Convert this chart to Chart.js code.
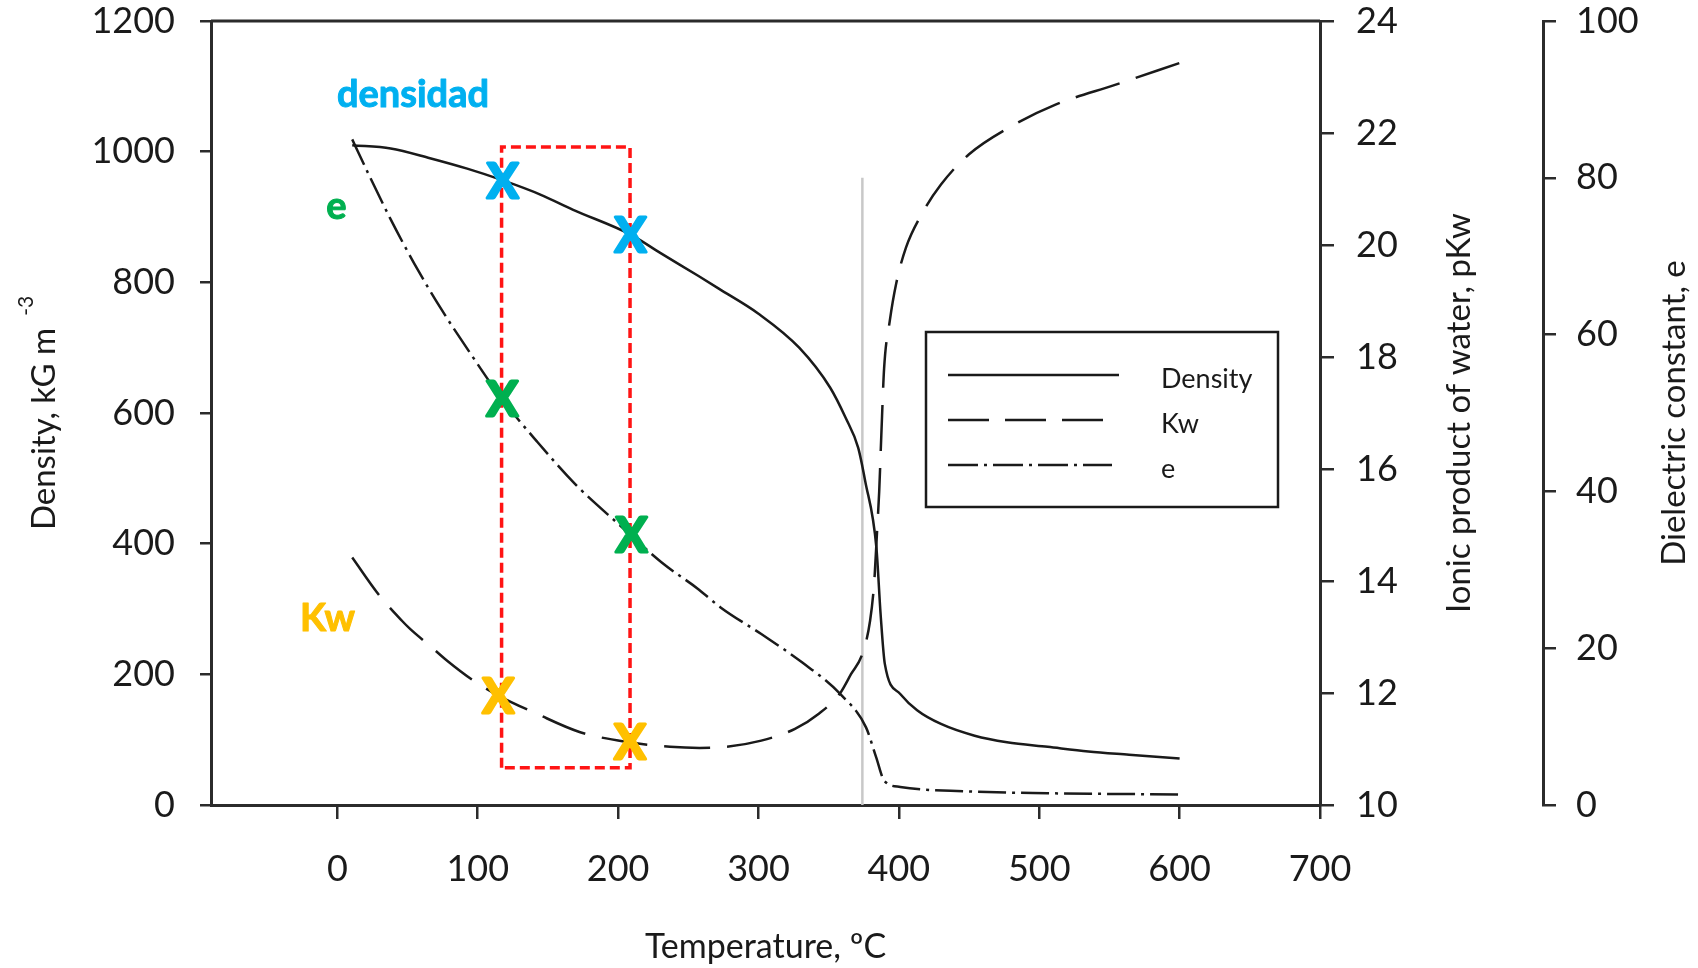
<!DOCTYPE html>
<html>
<head>
<meta charset="utf-8">
<title>Water properties vs temperature</title>
<script src="https://cdn.jsdelivr.net/npm/chart.js@4.4.1/dist/chart.umd.min.js"></script>
<style>
  html, body { margin: 0; padding: 0; background: #fff; }
  #wrap { width: 1698px; height: 968px; }
</style>
</head>
<body>
<div id="wrap"><canvas id="waterChart" width="1698" height="968"></canvas></div>
<script>
// values (temperature in ºC)
const densityTemps = [10.6, 38, 66, 92.5, 118, 145, 168, 209, 230, 257, 272, 300, 329, 351, 362, 371, 376, 384, 387, 390, 401, 413, 430, 454, 477, 506, 535, 564, 600];
const densityValues = [1010, 1005, 990, 974, 956, 934, 911, 873, 845, 810, 790, 752, 700, 639, 593, 547, 496, 394, 292, 216, 170, 145, 124, 106, 96, 89, 82, 77, 71];

const kwTemps = [10.6, 30, 46, 52, 67, 78, 97, 115, 142, 173, 208, 237, 258, 273, 302, 326, 343, 358, 366, 374, 379.5, 382.5, 384.5, 386, 387.5, 389.5, 393.5, 398, 405, 416, 430, 450, 478, 512, 554, 600];
const kwValues = [14.42, 13.74, 13.29, 13.14, 12.82, 12.58, 12.22, 11.95, 11.63, 11.30, 11.12, 11.04, 11.02, 11.03, 11.15, 11.36, 11.63, 11.99, 12.34, 12.70, 13.29, 14.0, 14.9, 15.6, 16.6, 17.8, 18.64, 19.30, 19.95, 20.54, 21.08, 21.62, 22.09, 22.51, 22.86, 23.25];

const eTemps = [10.6, 22.4, 38, 55, 73.5, 94.4, 117.4, 142.3, 169.6, 200.5, 231.3, 257.4, 273, 302, 331, 358, 376.6, 383.8, 389.6, 401, 448, 506, 600];
const eValues = [84.9, 80.4, 74.7, 69.0, 63.4, 57.7, 51.75, 46.35, 40.9, 35.8, 30.9, 27.5, 25.2, 21.8, 18.2, 14.2, 9.9, 6.1, 3.1, 2.3, 1.74, 1.5, 1.35];

// critical temperature marker and highlighted range
const criticalTemps = [374, 374];
const criticalDensity = [0, 960];
const boxTemps = [117, 117, 208.5, 208.5, 117];
const boxDensity = [57, 1007, 1007, 57, 57];

// the coloured X marks
const markTemps = [117.9, 208.8];
const densityMarks = [955.8, 873];
const eMarkTemps = [117.4, 209.5];
const eMarks = [51.75, 34.4];
const kwMarkTemps = [114.6, 208.4];
const kwMarks = [11.95, 11.12];

// annotation words: [temp, density]
const noteTexts = ['densidad', 'e', 'Kw'];
const noteTemps = [53.9, -0.6, -7];
const noteDensity = [1068, 897, 267];
const noteColors = ['#00B0F0', '#00B050', '#FFC000'];

// axes
const xTicks = [0, 100, 200, 300, 400, 500, 600, 700];
const xMin = -90, xMax = 700;
const densityMin = 0, densityMax = 1200, densityStep = 200;
const pkwMin = 10, pkwMax = 24, pkwStep = 2;
const eMin = 0, eMax = 100, eStep = 20;

const legendLabels = ['Density', 'Kw', 'e'];

const ink = '#1a1a1a';
const axisInk = '#2b2b2b';
const kwDash = [46, 17];
const eDash = [28, 6, 3, 6];

function pts(xs, ys) {
  return xs.map((x, i) => ({ x: x, y: ys[i] }));
}

const extras = {
  id: 'extras',
  afterDraw(chart) {
    const ctx = chart.ctx;
    const area = chart.chartArea;
    const sx = chart.scales.x, sy = chart.scales.y, sk = chart.scales.y2, se = chart.scales.y3;

    ctx.save();
    // top frame line
    ctx.strokeStyle = axisInk;
    ctx.lineWidth = 3;
    ctx.beginPath();
    ctx.moveTo(area.left, area.top);
    ctx.lineTo(area.right, area.top);
    ctx.stroke();

    ctx.fillStyle = ink;
    const titleFont = '33px Lato';
    const cy = (area.top + area.bottom) / 2;

    // left title with superscript
    ctx.save();
    ctx.translate(55, cy);
    ctx.rotate(-Math.PI / 2);
    ctx.font = titleFont;
    const main = 'Density, kG m';
    const w1 = ctx.measureText(main).width;
    ctx.font = '21px Lato';
    const w2 = ctx.measureText('-3').width;
    const start = -(w1 + 12 + w2) / 2;
    ctx.textAlign = 'left';
    ctx.textBaseline = 'alphabetic';
    ctx.font = titleFont;
    ctx.fillText(main, start, 0);
    ctx.font = '21px Lato';
    ctx.fillText('-3', start + w1 + 12, -22);
    ctx.restore();

    const rotated = (text, x) => {
      ctx.save();
      ctx.translate(x, cy);
      ctx.rotate(-Math.PI / 2);
      ctx.font = titleFont;
      ctx.textAlign = 'center';
      ctx.textBaseline = 'alphabetic';
      ctx.fillText(text, 0, 0);
      ctx.restore();
    };
    rotated('Ionic product of water, pKw', sk.right - 73);
    rotated('Dielectric constant, e', se.right - 13);

    ctx.font = '34px Lato';
    ctx.textAlign = 'center';
    ctx.textBaseline = 'alphabetic';
    ctx.fillText('Temperature, ºC', (area.left + area.right) / 2, 958);

    // legend box
    const lx = 926, ly = 332, lw = 352, lh = 175;
    ctx.lineWidth = 2.5;
    ctx.strokeStyle = ink;
    ctx.strokeRect(lx, ly, lw, lh);
    const dashes = [[], [41, 16], [30, 6, 3, 6]];
    const ends = [1119, 1103, 1112];
    legendLabels.forEach((label, i) => {
      const y = 375 + i * 45;
      ctx.setLineDash(dashes[i]);
      ctx.lineWidth = 2.5;
      ctx.beginPath();
      ctx.moveTo(948, y);
      ctx.lineTo(ends[i], y);
      ctx.stroke();
      ctx.setLineDash([]);
      ctx.font = '27px Lato';
      ctx.textAlign = 'left';
      ctx.textBaseline = 'middle';
      ctx.fillText(label, 1161, y + 4);
    });

    // coloured notes
    ctx.textAlign = 'center';
    ctx.textBaseline = 'alphabetic';
    ctx.lineJoin = 'round';
    ctx.font = 'bold 38px Lato';
    noteTexts.forEach((t, i) => {
      const px = sx.getPixelForValue(noteTemps[i]);
      const py = sy.getPixelForValue(noteDensity[i]);
      ctx.fillStyle = noteColors[i];
      ctx.strokeStyle = noteColors[i];
      ctx.lineWidth = 1;
      ctx.fillText(t, px, py);
      ctx.strokeText(t, px, py);
    });

    // X marks, baseline shifted by half the cap height
    ctx.font = 'bold 47px Lato';
    const drawX = (color, xs, ys, scale) => {
      ctx.fillStyle = color;
      ctx.strokeStyle = color;
      ctx.lineWidth = 3;
      xs.forEach((t, i) => {
        const px = sx.getPixelForValue(t);
        const py = scale.getPixelForValue(ys[i]) + 17;
        ctx.fillText('X', px, py);
        ctx.strokeText('X', px, py);
      });
    };
    drawX(noteColors[0], markTemps, densityMarks, sy);
    drawX(noteColors[1], eMarkTemps, eMarks, se);
    drawX(noteColors[2], kwMarkTemps, kwMarks, sk);
    ctx.restore();
  }
};

function tickFont() {
  return { family: 'Lato', size: 36 };
}

const plainLabel = v => String(v);

function draw() {
  const ctx = document.getElementById('waterChart').getContext('2d');
  new Chart(ctx, {
    type: 'scatter',
    data: {
      datasets: [
        {
          label: 'Density',
          data: pts(densityTemps, densityValues),
          yAxisID: 'y',
          showLine: true,
          borderColor: ink,
          borderWidth: 2.5,
          pointRadius: 0,
          cubicInterpolationMode: 'monotone',
          order: 3
        },
        {
          label: 'Kw',
          data: pts(kwTemps, kwValues),
          yAxisID: 'y2',
          showLine: true,
          borderColor: ink,
          borderWidth: 2.5,
          borderDash: kwDash,
          pointRadius: 0,
          cubicInterpolationMode: 'monotone',
          order: 3
        },
        {
          label: 'e',
          data: pts(eTemps, eValues),
          yAxisID: 'y3',
          showLine: true,
          borderColor: ink,
          borderWidth: 2.5,
          borderDash: eDash,
          pointRadius: 0,
          cubicInterpolationMode: 'monotone',
          order: 3
        },
        {
          label: 'critical',
          data: pts(criticalTemps, criticalDensity),
          yAxisID: 'y',
          showLine: true,
          borderColor: '#c8c8c8',
          borderWidth: 2.5,
          pointRadius: 0,
          order: 5
        },
        {
          label: 'range',
          data: pts(boxTemps, boxDensity),
          yAxisID: 'y',
          showLine: true,
          borderColor: '#ff1414',
          borderWidth: 3.5,
          borderDash: [10, 5],
          pointRadius: 0,
          order: 1
        }
      ]
    },
    options: {
      responsive: false,
      animation: false,
      devicePixelRatio: 1,
      layout: { padding: { top: 21, left: 0, right: 0, bottom: 0 } },
      plugins: {
        legend: { display: false },
        tooltip: { enabled: false }
      },
      scales: {
        x: {
          type: 'linear',
          position: 'bottom',
          min: xMin,
          max: xMax,
          afterBuildTicks: s => { s.ticks = xTicks.map(v => ({ value: v })); },
          afterFit: s => { s.height = 163; s.paddingLeft = 0; s.paddingRight = 0; },
          border: { display: true, color: axisInk, width: 3 },
          grid: { drawOnChartArea: false, drawTicks: true, tickLength: 14, color: axisInk, lineWidth: 2.5 },
          ticks: { font: tickFont(), color: ink, padding: 29, maxRotation: 0, autoSkip: false, callback: plainLabel }
        },
        y: {
          type: 'linear',
          position: 'left',
          min: densityMin,
          max: densityMax,
          afterFit: s => { s.width = 211; s.paddingTop = 0; s.paddingBottom = 0; },
          border: { display: true, color: axisInk, width: 3 },
          grid: { drawOnChartArea: false, drawTicks: true, tickLength: 11, color: axisInk, lineWidth: 2.5 },
          ticks: { stepSize: densityStep, font: tickFont(), color: ink, padding: 25, callback: plainLabel }
        },
        y2: {
          type: 'linear',
          position: 'right',
          weight: 0,
          min: pkwMin,
          max: pkwMax,
          afterFit: s => { s.width = 223; s.paddingTop = 0; s.paddingBottom = 0; },
          border: { display: true, color: axisInk, width: 3 },
          grid: { drawOnChartArea: false, drawTicks: true, tickLength: 14, color: axisInk, lineWidth: 2.5 },
          ticks: { stepSize: pkwStep, font: tickFont(), color: ink, padding: 22, callback: plainLabel }
        },
        y3: {
          type: 'linear',
          position: 'right',
          weight: 1,
          min: eMin,
          max: eMax,
          afterFit: s => { s.width = 155; s.paddingTop = 0; s.paddingBottom = 0; },
          border: { display: true, color: axisInk, width: 3 },
          grid: { drawOnChartArea: false, drawTicks: true, tickLength: 13, color: axisInk, lineWidth: 2.5 },
          ticks: { stepSize: eStep, font: tickFont(), color: ink, padding: 20, callback: plainLabel }
        }
      }
    },
    plugins: [extras]
  });
}

Promise.all([
  document.fonts.load('36px Lato'),
  document.fonts.load('bold 47px Lato')
]).catch(() => {}).then(draw);
</script>
</body>
</html>
